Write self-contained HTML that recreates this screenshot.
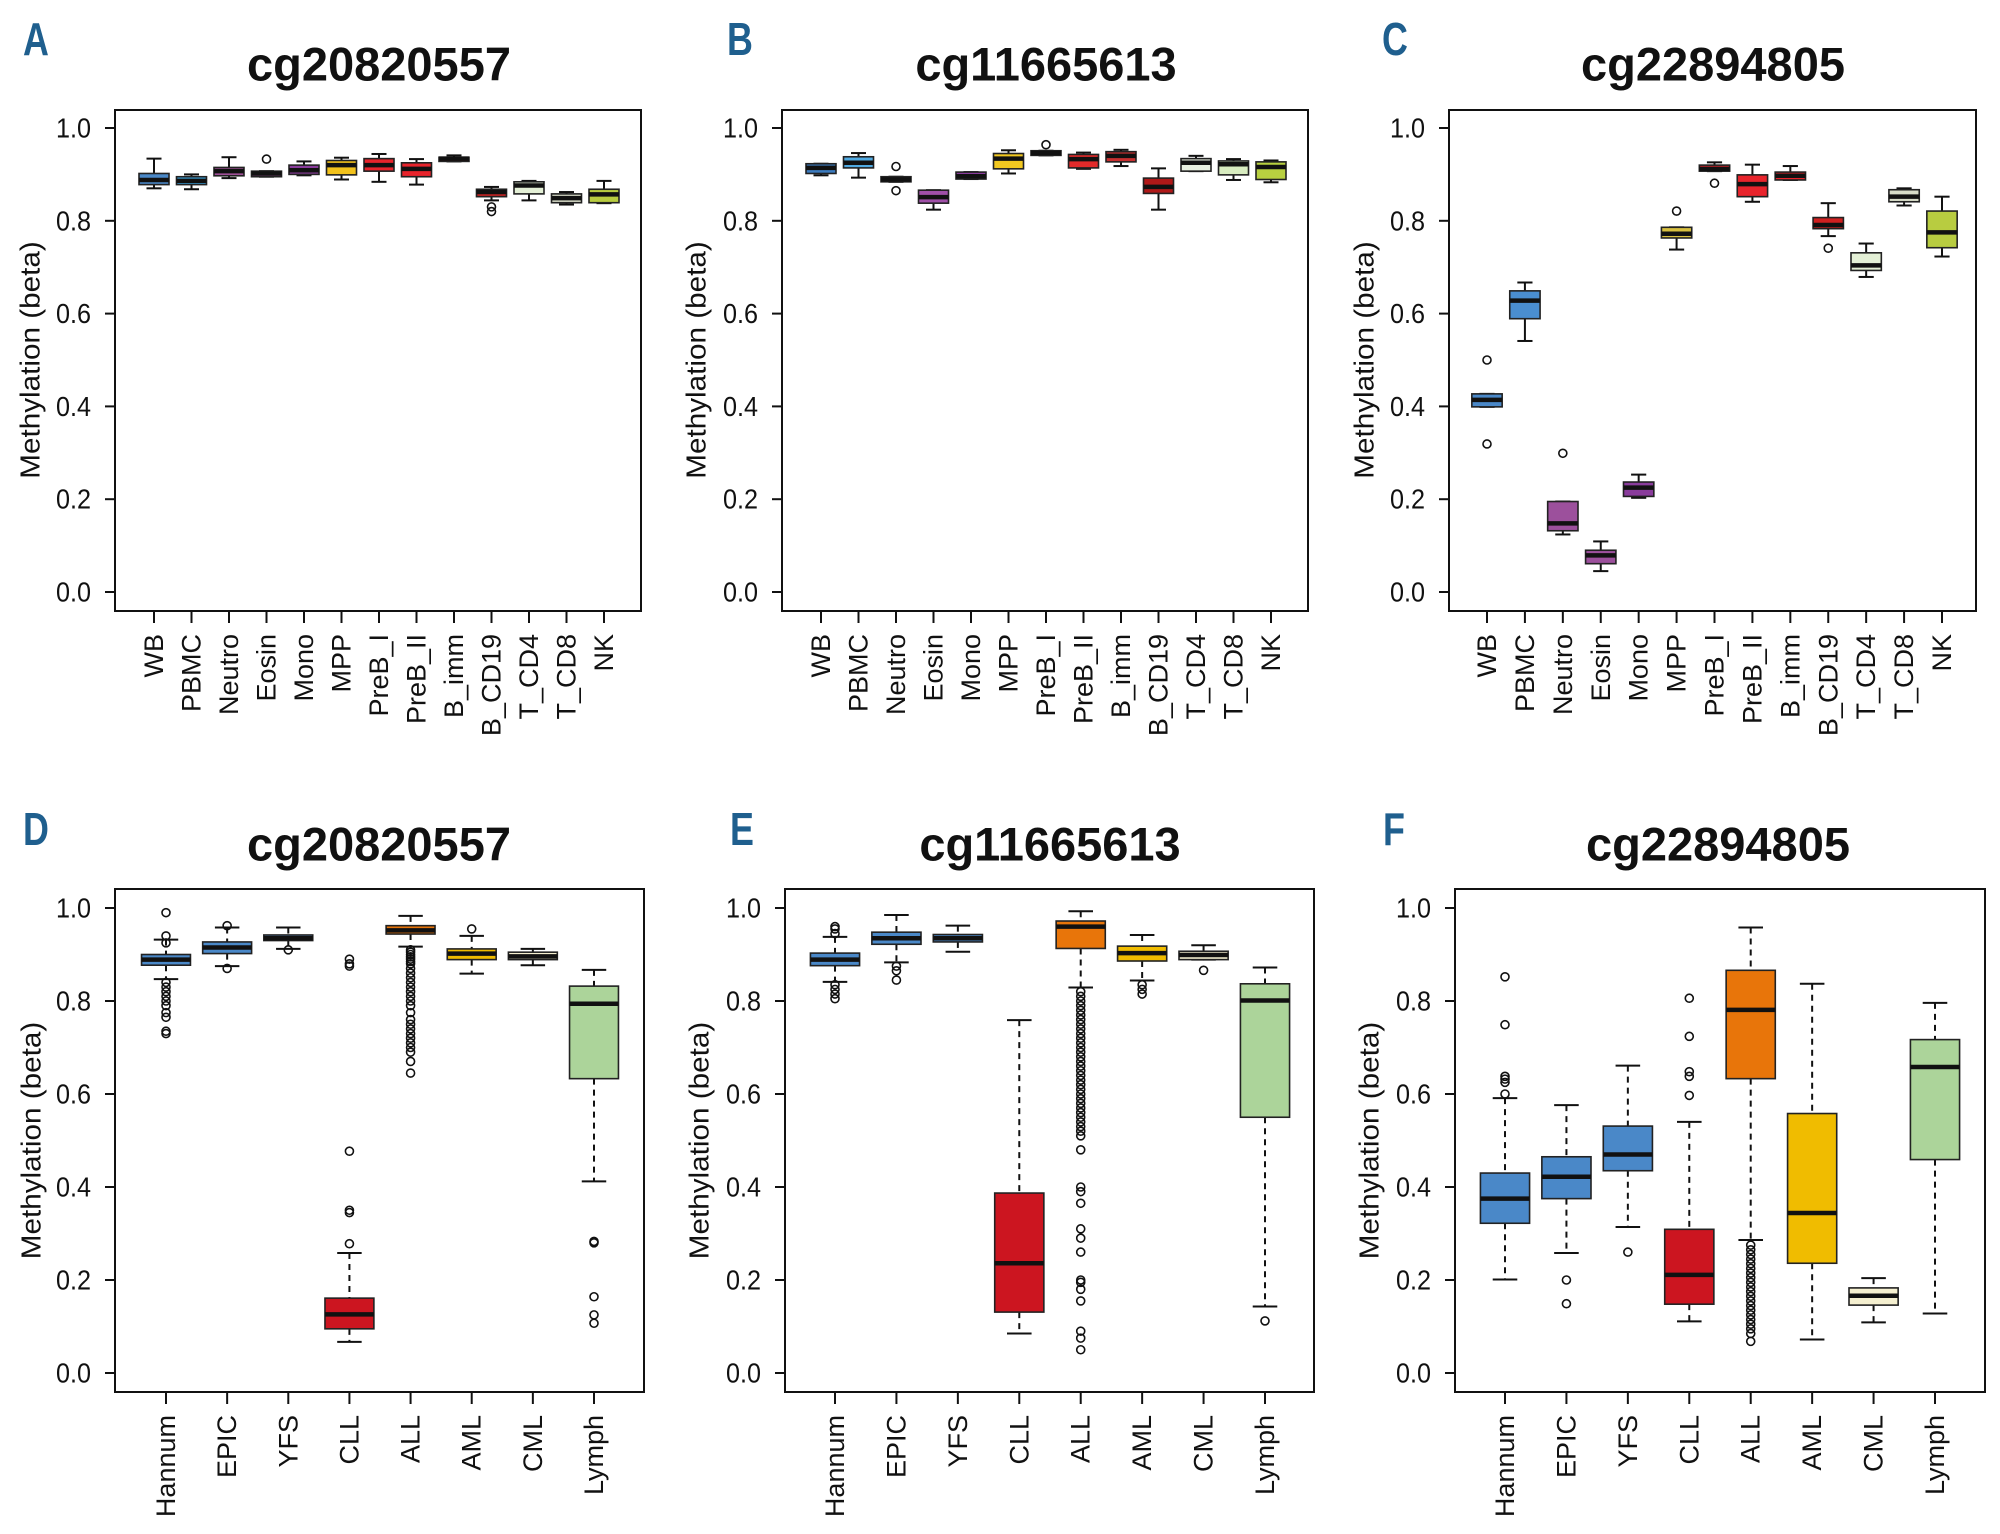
<!DOCTYPE html>
<html><head><meta charset="utf-8"><style>
html,body{margin:0;padding:0;background:#fff;}
svg{display:block;}
text{font-family:"Liberation Sans",sans-serif;fill:#111;}
</style></head><body>
<svg id="fig" width="2000" height="1534" viewBox="0 0 2000 1534" xmlns="http://www.w3.org/2000/svg"></svg>
<script>
// ---------- DATA ----------
const cellTypes = ["WB","PBMC","Neutro","Eosin","Mono","MPP","PreB_I","PreB_II","B_imm","B_CD19","T_CD4","T_CD8","NK"];
const cohorts = ["Hannum","EPIC","YFS","CLL","ALL","AML","CML","Lymph"];
const yTicks = [0.0,0.2,0.4,0.6,0.8,1.0];
const yTickLabels = ["0.0","0.2","0.4","0.6","0.8","1.0"];

// Panel A cg20820557 (cell types)
const aLo  = [0.870,0.868,0.892,0.895,0.898,0.889,0.884,0.878,0.928,0.844,0.844,0.835,0.838];
const aQ1  = [0.878,0.878,0.897,0.895,0.900,0.899,0.907,0.895,0.928,0.852,0.858,0.839,0.839];
const aMed = [0.888,0.886,0.907,0.902,0.909,0.920,0.920,0.912,0.934,0.862,0.876,0.849,0.857];
const aQ3  = [0.902,0.895,0.915,0.907,0.920,0.930,0.934,0.925,0.937,0.868,0.884,0.858,0.868];
const aHi  = [0.934,0.900,0.937,0.907,0.928,0.936,0.944,0.933,0.941,0.873,0.886,0.862,0.886];
const aOut = [[],[],[],[0.933],[],[],[],[],[],[0.830,0.820],[],[],[]];

// Panel B cg11665613 (cell types)
const bLo  = [0.898,0.893,0.884,0.824,0.890,0.902,0.941,0.912,0.918,0.824,0.907,0.888,0.883];
const bQ1  = [0.902,0.914,0.884,0.838,0.890,0.912,0.941,0.914,0.927,0.859,0.907,0.899,0.889];
const bMed = [0.914,0.925,0.889,0.851,0.896,0.934,0.946,0.933,0.940,0.873,0.925,0.922,0.916];
const bQ3  = [0.923,0.938,0.895,0.866,0.905,0.945,0.951,0.943,0.949,0.892,0.934,0.929,0.927];
const bHi  = [0.923,0.946,0.895,0.866,0.905,0.952,0.951,0.947,0.953,0.913,0.940,0.933,0.930];
const bOut = [[],[],[0.917,0.865],[],[],[],[0.964],[],[],[],[],[],[]];

// Panel C cg22894805 (cell types)
const cLo  = [0.399,0.541,0.124,0.045,0.203,0.738,0.907,0.841,0.888,0.767,0.679,0.833,0.723];
const cQ1  = [0.399,0.589,0.132,0.061,0.206,0.763,0.907,0.852,0.888,0.783,0.693,0.841,0.742];
const cMed = [0.414,0.628,0.148,0.079,0.225,0.772,0.912,0.879,0.897,0.791,0.704,0.852,0.775];
const cQ3  = [0.427,0.649,0.195,0.090,0.237,0.786,0.920,0.899,0.905,0.807,0.731,0.867,0.821];
const cHi  = [0.427,0.667,0.195,0.109,0.253,0.786,0.926,0.921,0.918,0.838,0.751,0.870,0.852];
const cOut = [[0.500,0.319],[],[0.299],[],[],[0.821],[0.881],[],[],[0.741],[],[],[]];

// Panel D cg20820557 (cohorts)
const dLo  = [0.847,0.875,0.912,0.067,0.917,0.859,0.877,0.412];
const dQ1  = [0.877,0.902,0.930,0.095,0.944,0.889,0.889,0.633];
const dMed = [0.889,0.915,0.935,0.126,0.952,0.902,0.896,0.794];
const dQ3  = [0.900,0.927,0.942,0.161,0.962,0.912,0.905,0.832];
const dHi  = [0.932,0.958,0.958,0.258,0.983,0.940,0.912,0.867];
const dOut = [
  [0.990,0.940,0.925,0.840,0.830,0.820,0.810,0.800,0.790,0.775,0.765,0.735,0.730],
  [0.962,0.870],[0.910],
  [0.890,0.880,0.875,0.477,0.350,0.345,0.278],
  [0.910,0.905,0.900,0.895,0.890,0.885,0.880,0.870,0.860,0.850,0.840,0.830,0.820,0.810,0.800,0.790,0.775,0.760,0.750,0.740,0.730,0.720,0.710,0.700,0.690,0.670,0.645],
  [0.955],[],[0.283,0.280,0.164,0.125,0.107]];

// Panel E cg11665613 (cohorts)
const eLo  = [0.841,0.883,0.906,0.085,0.829,0.844,0.889,0.143];
const eQ1  = [0.876,0.922,0.927,0.131,0.913,0.886,0.889,0.550];
const eMed = [0.889,0.935,0.935,0.236,0.960,0.903,0.899,0.801];
const eQ3  = [0.903,0.948,0.943,0.387,0.972,0.918,0.907,0.837];
const eHi  = [0.938,0.985,0.962,0.759,0.993,0.942,0.920,0.872];
const eOut = [
  [0.960,0.955,0.945,0.835,0.825,0.815,0.805],
  [0.875,0.865,0.845],[],[],
  [0.820,0.810,0.800,0.790,0.780,0.770,0.760,0.750,0.740,0.730,0.720,0.710,0.700,0.690,0.680,0.670,0.660,0.650,0.640,0.630,0.620,0.610,0.600,0.590,0.580,0.570,0.560,0.550,0.540,0.530,0.520,0.510,0.480,0.400,0.390,0.365,0.310,0.290,0.260,0.200,0.195,0.180,0.155,0.090,0.075,0.050],
  [0.835,0.825,0.815],[0.866],[0.112]];

// Panel F cg22894805 (cohorts)
const fLo  = [0.201,0.258,0.314,0.111,0.286,0.072,0.109,0.128];
const fQ1  = [0.322,0.375,0.435,0.148,0.633,0.236,0.146,0.459];
const fMed = [0.375,0.422,0.470,0.211,0.781,0.344,0.166,0.658];
const fQ3  = [0.430,0.465,0.531,0.309,0.866,0.558,0.183,0.717];
const fHi  = [0.591,0.576,0.661,0.540,0.958,0.837,0.204,0.796];
const fOut = [
  [0.852,0.749,0.638,0.632,0.625,0.600],
  [0.200,0.149],[0.260],
  [0.806,0.724,0.648,0.638,0.597],
  [0.275,0.265,0.255,0.245,0.235,0.225,0.215,0.205,0.195,0.185,0.175,0.165,0.155,0.145,0.135,0.125,0.115,0.105,0.095,0.085,0.068],
  [],[],[]];

// ---------- STYLES ----------
const topColorsA = ["#4a88c8","#3aa2dc","#a05098","#a05098","#8a3c9c","#f2c21c","#e8242c","#e8242c","#e8242c","#c42222","#e4f0d6","#d8dcc8","#b8cc40"];
const topColorsB = ["#3c7cc0","#50aae2","#a05098","#a050a8","#8a3c9c","#f2c820","#e8242c","#e22a2a","#c83030","#b01818","#e8f0e0","#d8ecc0","#b8d040"];
const topColorsC = ["#4a88c8","#4a8ed0","#9c509c","#9c509c","#8a3c9c","#d8c040","#e8242c","#e8242c","#e8242c","#d02020","#e4f0d6","#d8dcc8","#b8cc40"];
const botColors = ["#4a88c8","#4a88c8","#4a88c8","#cc1520","#e8750a","#f0bc00","#f5f0d0","#acd49a"];

const svg = document.getElementById('fig');
const NS = "http://www.w3.org/2000/svg";
function mk(tag, attrs, parent){
  const e = document.createElementNS(NS, tag);
  for (const k in attrs) e.setAttribute(k, attrs[k]);
  (parent||svg).appendChild(e);
  return e;
}

function drawPanel(p){
  const g = mk('g', {});
  
  
  const n = p.cats.length;
  const step = (p.catR - p.catL) / (n - 1);
  const xPos = i => p.catL + i * step;
  const yPos = v => p.y0 + (p.y1 - p.y0) * v;
  const bw = step * 0.8;

  const lt = mk('text', {x:p.letterX, y:p.letterY, 'font-size':46, 'font-weight':'bold', style:'fill:#1f5f8e', transform:`translate(${p.letterX},0) scale(0.78,1) translate(${-p.letterX},0)`}, g);
  lt.textContent = p.letter;
  
  

  const tt = mk('text', {x:p.titleX, y:p.titleY, 'font-size':47, 'font-weight':'bold', 'text-anchor':'middle', 'dominant-baseline':'central'}, g);
  tt.textContent = p.title;
  
  

  // y axis
  const yAxis = mk('g', {}, g);
  
  
  yTicks.forEach((v, i) => {
    const y = yPos(v);
    const tk = mk('line', {x1:p.boxL-10, x2:p.boxL, y1:y, y2:y, stroke:'#111', 'stroke-width':2}, yAxis);
    
    
    const tx = p.boxL-24;
    const tl = mk('text', {x:tx, y:y, 'font-size':28, 'text-anchor':'end', 'dominant-baseline':'central', transform:`translate(${tx},0) scale(0.9,1) translate(${-tx},0)`}, yAxis);
    tl.textContent = yTickLabels[i];
    
    
  });
  const ym = (yPos(0) + yPos(1)) / 2;
  const yx = p.yTitleX - 3;
  const yt = mk('text', {x:yx, y:ym, 'font-size':28, 'text-anchor':'middle', 'dominant-baseline':'central', transform:`rotate(-90 ${yx} ${ym}) translate(${yx},${ym}) scale(1.06,1) translate(${-yx},${-ym})`}, yAxis);
  yt.textContent = "Methylation (beta)";
  
  

  // x axis
  const xAxis = mk('g', {}, g);
  
  
  p.cats.forEach((c, i) => {
    const x = xPos(i);
    const tk = mk('line', {x1:x, x2:x, y1:p.boxB, y2:p.boxB+12, stroke:'#111', 'stroke-width':2}, xAxis);
    
    
    const ty = p.boxB + 23;
    const tl = mk('text', {x:x, y:ty, 'font-size':27, 'text-anchor':'end', 'dominant-baseline':'central', transform:`rotate(-90 ${x} ${ty})`}, xAxis);
    tl.textContent = c;
    
    
  });

  // boxes
  const dash = p.dashed ? '6,5' : 'none';
  p.cats.forEach((c, i) => {
    const x = xPos(i);
    const bg = mk('g', {}, g);
    
    
    const lo = yPos(p.lo[i]), q1 = yPos(p.q1[i]), md = yPos(p.med[i]), q3 = yPos(p.q3[i]), hi = yPos(p.hi[i]);
    mk('line', {x1:x, x2:x, y1:hi, y2:q3, stroke:'#111', 'stroke-width':2, 'stroke-dasharray':dash}, bg);
    mk('line', {x1:x, x2:x, y1:q1, y2:lo, stroke:'#111', 'stroke-width':2, 'stroke-dasharray':dash}, bg);
    mk('line', {x1:x-bw/4, x2:x+bw/4, y1:hi, y2:hi, stroke:'#111', 'stroke-width':2}, bg);
    mk('line', {x1:x-bw/4, x2:x+bw/4, y1:lo, y2:lo, stroke:'#111', 'stroke-width':2}, bg);
    mk('rect', {x:x-bw/2, y:q3, width:bw, height:Math.max(q1-q3,1), fill:p.colors[i], stroke:'#222', 'stroke-width':1.6}, bg);
    mk('line', {x1:x-bw/2, x2:x+bw/2, y1:md, y2:md, stroke:'#111', 'stroke-width':4.5}, bg);
    p.out[i].forEach(v => {
      const o = mk('circle', {cx:x, cy:yPos(v), r:4, fill:'none', stroke:'#111', 'stroke-width':1.6}, bg);
      
      
    });
  });

  const fr = mk('rect', {x:p.boxL, y:p.boxT, width:p.boxR-p.boxL, height:p.boxB-p.boxT, fill:'none', stroke:'#111', 'stroke-width':2}, g);
  
  
}

const topY = {boxT:110, boxB:611, y0:592, y1:128, titleY:64};
const botY = {boxT:889, boxB:1392, y0:1373, y1:908, titleY:844};

drawPanel(Object.assign({letter:'A', title:'cg20820557', letterX:23, letterY:55, titleX:379, yTitleX:34,
  boxL:115, boxR:641, catL:154, catR:604, cats:cellTypes, colors:topColorsA,
  lo:aLo, q1:aQ1, med:aMed, q3:aQ3, hi:aHi, out:aOut, dashed:false}, topY));
drawPanel(Object.assign({letter:'B', title:'cg11665613', letterX:727, letterY:55, titleX:1046, yTitleX:700,
  boxL:782, boxR:1308, catL:821, catR:1271, cats:cellTypes, colors:topColorsB,
  lo:bLo, q1:bQ1, med:bMed, q3:bQ3, hi:bHi, out:bOut, dashed:false}, topY));
drawPanel(Object.assign({letter:'C', title:'cg22894805', letterX:1382, letterY:55, titleX:1713, yTitleX:1368,
  boxL:1449, boxR:1976, catL:1487, catR:1942, cats:cellTypes, colors:topColorsC,
  lo:cLo, q1:cQ1, med:cMed, q3:cQ3, hi:cHi, out:cOut, dashed:false}, topY));
drawPanel(Object.assign({letter:'D', title:'cg20820557', letterX:23, letterY:845, titleX:379, yTitleX:35,
  boxL:115, boxR:644, catL:166, catR:594, cats:cohorts, colors:botColors,
  lo:dLo, q1:dQ1, med:dMed, q3:dQ3, hi:dHi, out:dOut, dashed:true}, botY));
drawPanel(Object.assign({letter:'E', title:'cg11665613', letterX:730, letterY:845, titleX:1050, yTitleX:703,
  boxL:785, boxR:1314, catL:835, catR:1265, cats:cohorts, colors:botColors,
  lo:eLo, q1:eQ1, med:eMed, q3:eQ3, hi:eHi, out:eOut, dashed:true}, botY));
drawPanel(Object.assign({letter:'F', title:'cg22894805', letterX:1383, letterY:845, titleX:1718, yTitleX:1373,
  boxL:1455, boxR:1985, catL:1505, catR:1935, cats:cohorts, colors:botColors,
  lo:fLo, q1:fQ1, med:fMed, q3:fQ3, hi:fHi, out:fOut, dashed:true}, botY));
</script>
</body></html>
